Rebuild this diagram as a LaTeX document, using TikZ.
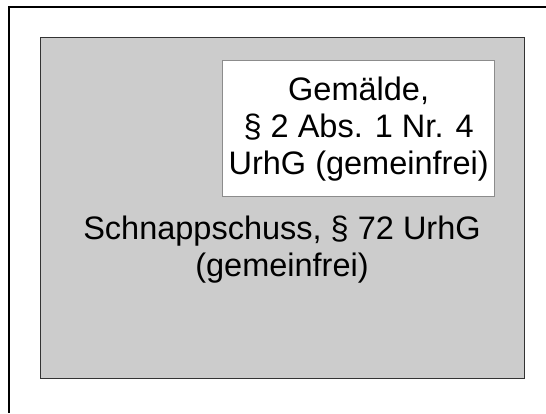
\documentclass[tikz,border=0pt]{standalone}
\usepackage{fontspec}
\setmainfont{Liberation Sans}
\begin{document}
\begin{tikzpicture}[x=1pt,y=-1pt]
    % Definitionen
    \def\textsize{\fontsize{32.5}{37}\selectfont}
    \useasboundingbox (0,0) rectangle (546,413);
    % Rahmen
    \coordinate (ecke) at (9,7);
    \draw[black, line width=2pt] (546,7) -- (ecke) -- (9,413);
    % Schnappschuss (grau)
    \node[draw=black!80, fill=black!20, line width=1.3pt, inner sep=0pt,
          minimum width=484pt, minimum height=341pt, anchor=north west] (foto) at (40,37) {};
    % Gemaelde (weiss)
    \node[draw=black!45, fill=white, line width=1.3pt, inner sep=0pt, align=center, font=\textsize,
          minimum width=272pt, minimum height=136pt, anchor=north west] (gemaelde) at (222,60)
          {Gemälde,\\ § 2 Abs. 1 Nr. 4\\ UrhG (gemeinfrei)};
    % Beschriftung
    \node[align=center, font=\textsize] (schnappschuss) at (282,250) {Schnappschuss, § 72 UrhG\\ (gemeinfrei)};
\end{tikzpicture}
\end{document}
